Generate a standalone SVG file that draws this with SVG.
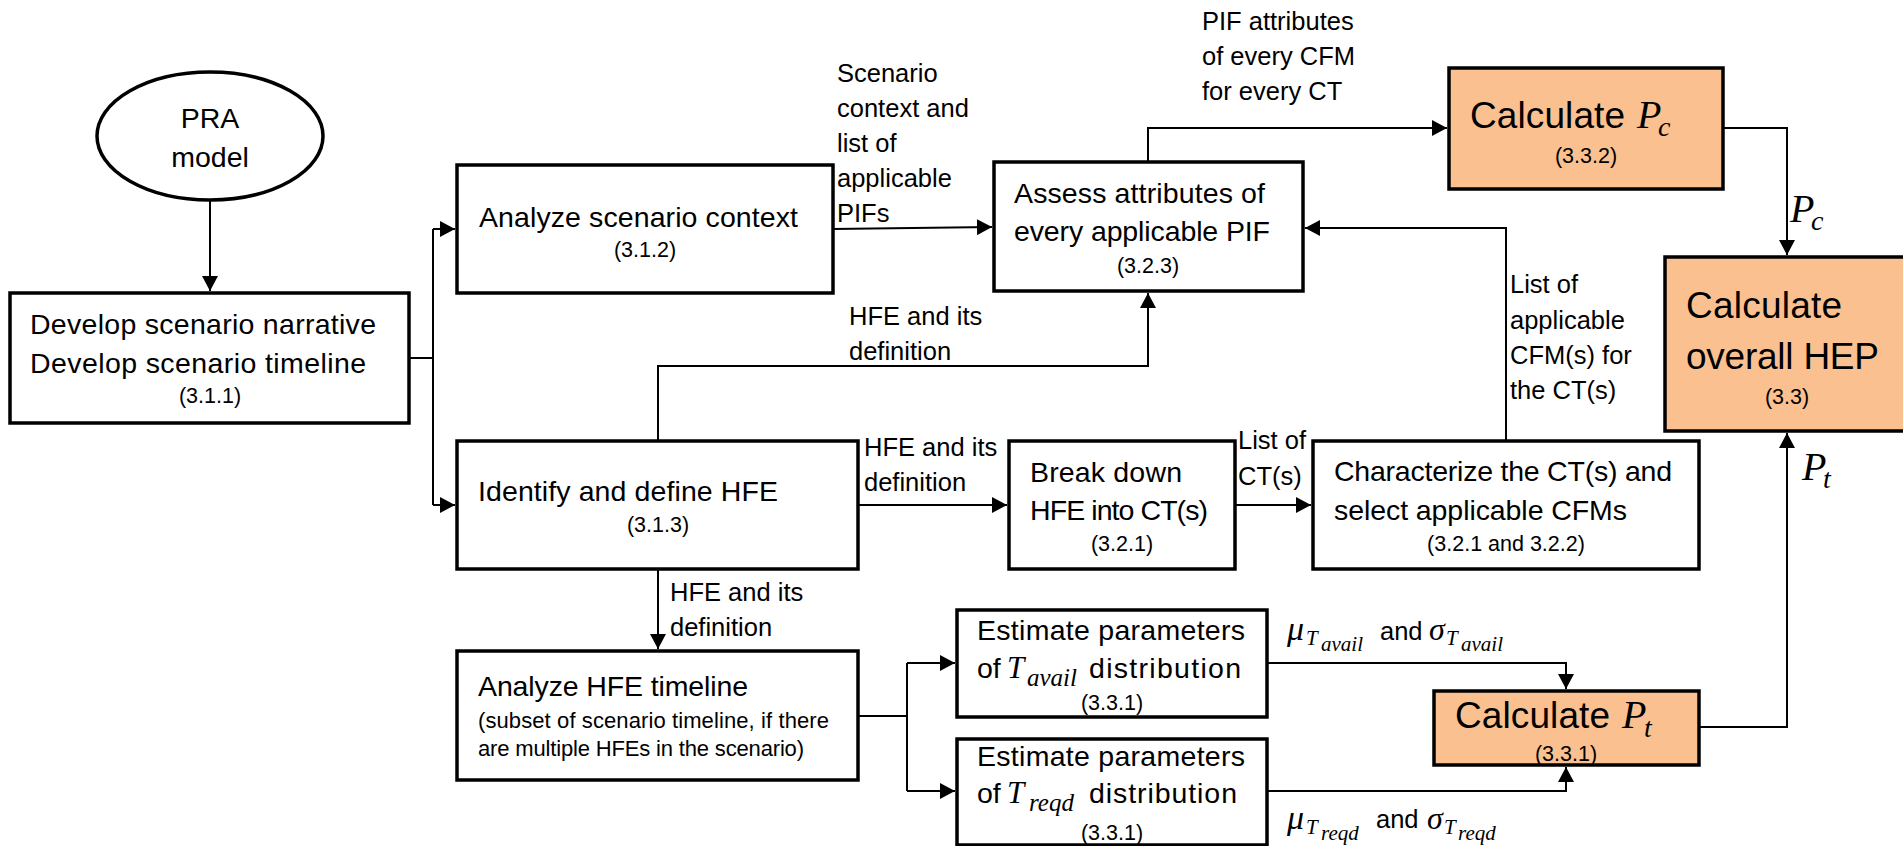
<svg xmlns="http://www.w3.org/2000/svg" width="1903" height="846" viewBox="0 0 1903 846">
<defs>
<marker id="ah" markerUnits="userSpaceOnUse" markerWidth="15" markerHeight="16" refX="15" refY="8" orient="auto">
<path d="M0,0 L15,8 L0,16 Z" fill="#000"/>
</marker>
<style>
.box{fill:#fff;stroke:#000;stroke-width:3.5}
.hot{fill:#FAC090;stroke:#000;stroke-width:3.5}
.c{fill:none;stroke:#000;stroke-width:2;marker-end:url(#ah)}
.cn{fill:none;stroke:#000;stroke-width:2}
text{font-family:"Liberation Sans",Arial,sans-serif;fill:#000}
.t{font-size:28.5px}
.s{font-size:21.5px;text-anchor:middle}
.l{font-size:25.5px}
.b{font-size:37px}
.n{font-size:22px}
.m{font-family:"Liberation Serif","Times New Roman",serif;font-style:italic}
</style>
</defs>
<rect width="1903" height="846" fill="#fff"/>

<g id="connectors">
<path class="c" d="M210,200 L210,291"/>
<path class="cn" d="M409,358 L433,358 M433,229 L433,505"/>
<path class="c" d="M433,229 L455,229"/>
<path class="c" d="M433,505 L455,505"/>
<path class="c" d="M833,229 L992,227"/>
<path class="c" d="M658,441 L658,366 L1148,366 L1148,293"/>
<path class="c" d="M1148,162 L1148,128 L1447,128"/>
<path class="c" d="M1723,128 L1787,128 L1787,255"/>
<path class="c" d="M1506,441 L1506,228 L1305,228"/>
<path class="c" d="M858,505 L1007,505"/>
<path class="c" d="M1235,505 L1311,505"/>
<path class="c" d="M658,569 L658,649"/>
<path class="cn" d="M858,716 L907,716 M907,663 L907,791"/>
<path class="c" d="M907,663 L955,663"/>
<path class="c" d="M907,791 L955,791"/>
<path class="c" d="M1267,663 L1566,663 L1566,689"/>
<path class="c" d="M1267,791 L1566,791 L1566,767"/>
<path class="c" d="M1699,727 L1787,727 L1787,433"/>
</g>

<g id="pra">
<ellipse cx="210" cy="136" rx="113" ry="64" fill="#fff" stroke="#000" stroke-width="3.5"/>
<text class="t" x="210" y="128" text-anchor="middle">PRA</text>
<text class="t" x="210" y="167" text-anchor="middle">model</text>
</g>

<g id="develop">
<rect class="box" x="10" y="293" width="399" height="130"/>
<text class="t" x="30" y="334" textLength="346">Develop scenario narrative</text>
<text class="t" x="30" y="373" textLength="336">Develop scenario timeline</text>
<text class="s" x="210" y="403">(3.1.1)</text>
</g>

<g id="analyze-context">
<rect class="box" x="457" y="165" width="376" height="128"/>
<text class="t" x="479" y="227" textLength="319">Analyze scenario context</text>
<text class="s" x="645" y="257">(3.1.2)</text>
</g>

<g id="assess">
<rect class="box" x="994" y="162" width="309" height="129"/>
<text class="t" x="1014" y="203" textLength="251">Assess attributes of</text>
<text class="t" x="1014" y="241" textLength="256">every applicable PIF</text>
<text class="s" x="1148" y="273">(3.2.3)</text>
</g>

<g id="calc-pc">
<rect class="hot" x="1449" y="68" width="274" height="121"/>
<text class="b" x="1470" y="128" textLength="155">Calculate</text>
<text class="m" x="1637" y="128" font-size="40">P</text>
<text class="m" x="1658" y="136" font-size="28">c</text>
<text class="s" x="1586" y="163">(3.3.2)</text>
</g>

<g id="calc-hep">
<rect class="hot" x="1665" y="257" width="250" height="174"/>
<text class="b" x="1686" y="318" textLength="156">Calculate</text>
<text class="b" x="1686" y="369" textLength="193">overall HEP</text>
<text class="s" x="1787" y="404">(3.3)</text>
</g>

<g id="identify">
<rect class="box" x="457" y="441" width="401" height="128"/>
<text class="t" x="478" y="501" textLength="300">Identify and define HFE</text>
<text class="s" x="658" y="532">(3.1.3)</text>
</g>

<g id="breakdown">
<rect class="box" x="1009" y="441" width="226" height="128"/>
<text class="t" x="1030" y="482" textLength="152">Break down</text>
<text class="t" x="1030" y="520" textLength="178">HFE into CT(s)</text>
<text class="s" x="1122" y="551">(3.2.1)</text>
</g>

<g id="characterize">
<rect class="box" x="1313" y="441" width="386" height="128"/>
<text class="t" x="1334" y="481" textLength="338">Characterize the CT(s) and</text>
<text class="t" x="1334" y="520" textLength="293">select applicable CFMs</text>
<text class="s" x="1506" y="551">(3.2.1 and 3.2.2)</text>
</g>

<g id="analyze-hfe">
<rect class="box" x="457" y="651" width="401" height="129"/>
<text class="t" x="478" y="696" textLength="270">Analyze HFE timeline</text>
<text class="n" x="478" y="728" textLength="351">(subset of scenario timeline, if there</text>
<text class="n" x="478" y="756" textLength="326">are multiple HFEs in the scenario)</text>
</g>

<g id="est-avail">
<rect class="box" x="957" y="610" width="310" height="107"/>
<text class="t" x="977" y="640" textLength="268">Estimate parameters</text>
<text class="t" x="977" y="678">of</text>
<text class="m" x="1007" y="678" font-size="31">T</text>
<text class="m" x="1027" y="686" font-size="25">avail</text>
<text class="t" x="1089" y="678" textLength="152">distribution</text>
<text class="s" x="1112" y="710">(3.3.1)</text>
</g>

<g id="est-reqd">
<rect class="box" x="957" y="739" width="310" height="106"/>
<text class="t" x="977" y="766" textLength="268">Estimate parameters</text>
<text class="t" x="977" y="803">of</text>
<text class="m" x="1007" y="803" font-size="31">T</text>
<text class="m" x="1029" y="811" font-size="25">reqd</text>
<text class="t" x="1089" y="803" textLength="148">distribution</text>
<text class="s" x="1112" y="840">(3.3.1)</text>
</g>

<g id="calc-pt">
<rect class="hot" x="1434" y="691" width="265" height="74"/>
<text class="b" x="1455" y="728" textLength="155">Calculate</text>
<text class="m" x="1622" y="728" font-size="40">P</text>
<text class="m" x="1644" y="737" font-size="28">t</text>
<text class="s" x="1566" y="761">(3.3.1)</text>
</g>

<g id="labels">
<text class="l" x="837" y="82">Scenario</text>
<text class="l" x="837" y="117">context and</text>
<text class="l" x="837" y="152">list of</text>
<text class="l" x="837" y="187">applicable</text>
<text class="l" x="837" y="222">PIFs</text>
<text class="l" x="1202" y="30">PIF attributes</text>
<text class="l" x="1202" y="65">of every CFM</text>
<text class="l" x="1202" y="100">for every CT</text>
<text class="l" x="849" y="325">HFE and its</text>
<text class="l" x="849" y="360">definition</text>
<text class="l" x="1510" y="293">List of</text>
<text class="l" x="1510" y="329">applicable</text>
<text class="l" x="1510" y="364">CFM(s) for</text>
<text class="l" x="1510" y="399">the CT(s)</text>
<text class="l" x="864" y="456">HFE and its</text>
<text class="l" x="864" y="491">definition</text>
<text class="l" x="1238" y="449">List of</text>
<text class="l" x="1238" y="485">CT(s)</text>
<text class="l" x="670" y="601">HFE and its</text>
<text class="l" x="670" y="636">definition</text>
<text class="m" x="1790" y="222" font-size="40">P</text>
<text class="m" x="1811" y="230" font-size="28">c</text>
<text class="m" x="1802" y="480" font-size="40">P</text>
<text class="m" x="1823" y="488" font-size="28">t</text>
<text class="m" x="1287" y="640" font-size="34">μ</text>
<text class="m" x="1306" y="645" font-size="21">T</text>
<text class="m" x="1321" y="651" font-size="21">avail</text>
<text class="l" x="1380" y="640">and</text>
<text class="m" x="1429" y="640" font-size="32">σ</text>
<text class="m" x="1446" y="645" font-size="21">T</text>
<text class="m" x="1461" y="651" font-size="21">avail</text>
<text class="m" x="1287" y="829" font-size="34">μ</text>
<text class="m" x="1306" y="834" font-size="21">T</text>
<text class="m" x="1321" y="840" font-size="21">reqd</text>
<text class="l" x="1376" y="828">and</text>
<text class="m" x="1427" y="829" font-size="32">σ</text>
<text class="m" x="1444" y="834" font-size="21">T</text>
<text class="m" x="1458" y="840" font-size="21">reqd</text>
</g>
</svg>
